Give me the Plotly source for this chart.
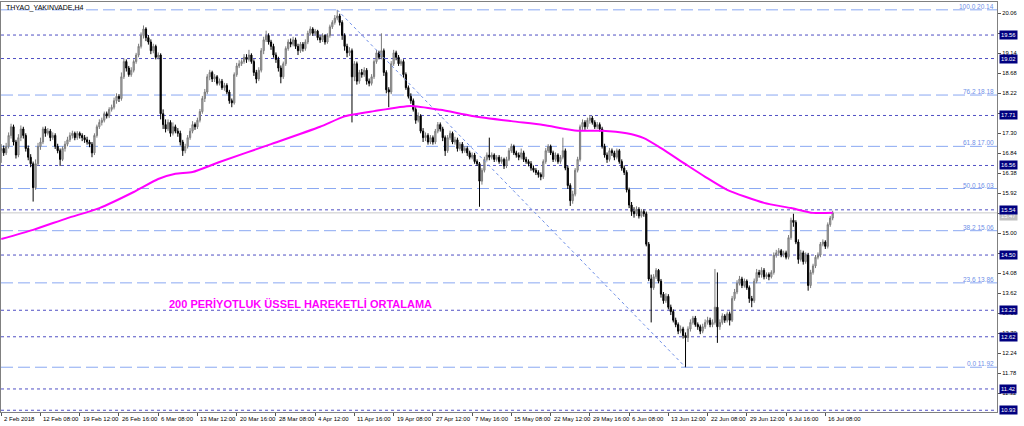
import plotly.graph_objects as go

# ---------------- data ----------------
first_open = 16.90
closes = [
    16.95, 16.85, 17.00, 17.25, 17.45, 17.10, 16.80, 17.20, 17.40, 17.25,
    16.95, 16.75, 16.60, 16.05, 16.60, 17.00, 17.10, 17.40, 17.30, 17.35,
    17.20, 17.25, 17.00, 16.90, 16.70, 16.95, 17.05, 17.15, 17.25, 17.30,
    17.20, 17.30, 17.25, 17.20, 17.15, 17.10, 17.05, 16.85, 17.25, 17.45,
    17.55, 17.60, 17.75, 17.70, 17.85, 17.90, 18.05, 18.15, 18.10, 18.60,
    18.95, 18.80, 18.65, 18.75, 18.95, 19.10, 19.30, 19.55, 19.70, 19.50,
    19.40, 19.20, 19.30, 19.05, 19.10, 17.75, 17.50, 17.40, 17.55, 17.30,
    17.45, 17.35, 17.30, 17.10, 16.90, 17.00, 17.20, 17.35, 17.50, 17.45,
    17.60, 17.80, 18.10, 18.25, 18.60, 18.70, 18.55, 18.60, 18.45, 18.50,
    18.35, 18.40, 18.25, 18.05, 18.00, 18.65, 18.85, 18.90, 18.95, 19.05,
    19.00, 19.10, 18.95, 18.70, 18.55, 18.75, 19.20, 19.45, 19.55, 19.40,
    19.30, 19.10, 19.00, 18.80, 18.60, 18.90, 19.25, 19.40, 19.35, 19.45,
    19.30, 19.20, 19.35, 19.25, 19.40, 19.60, 19.70, 19.60, 19.65, 19.50,
    19.45, 19.55, 19.40, 19.55, 19.75, 19.85, 19.95, 20.00, 19.85, 19.55,
    19.30, 19.15, 19.20, 18.60, 18.90, 18.50, 18.70, 18.65, 18.75, 18.50,
    18.45, 18.60, 18.95, 19.15, 19.05, 19.20, 18.70, 18.30, 18.25, 18.90,
    19.15, 19.05, 18.90, 18.95, 18.65, 18.35, 18.15, 18.05, 17.85, 17.60,
    17.70, 17.35, 17.20, 17.25, 17.10, 17.20, 17.10, 17.35, 17.50, 17.40,
    17.20, 16.90, 17.20, 17.30, 17.10, 17.15, 16.95, 17.05, 16.90, 16.95,
    16.85, 16.75, 16.80, 16.65, 16.60, 16.20, 16.45, 16.70, 16.80, 16.75,
    16.80, 16.70, 16.75, 16.65, 16.70, 16.55, 16.70, 16.90, 17.00, 16.85,
    16.80, 16.75, 16.85, 16.70, 16.65, 16.60, 16.50, 16.45, 16.40, 16.35,
    16.30, 16.65, 16.90, 17.00, 16.85, 16.70, 16.80, 16.65, 16.75, 16.90,
    16.50, 16.10, 15.75, 15.90, 16.45, 16.70, 17.45, 17.55, 17.45, 17.60,
    17.65, 17.55, 17.45, 17.50, 17.40, 17.00, 16.80, 16.70, 16.90, 16.85,
    16.75, 16.90, 16.65, 16.50, 16.40, 16.00, 15.65, 15.50, 15.45, 15.55,
    15.40, 15.50, 15.45, 14.75, 13.95, 13.75, 14.00, 14.15, 13.90, 13.60,
    13.45, 13.55, 13.30, 13.20, 13.00, 12.90, 12.75, 12.80, 12.65, 12.60,
    12.80, 12.95, 13.05, 12.90, 12.85, 12.75, 12.85, 12.95, 13.00, 12.90,
    12.95, 13.30, 12.85, 12.95, 13.10, 13.00, 13.15, 13.00, 13.50, 13.65,
    13.85, 13.95, 13.80, 13.90, 13.75, 13.50, 13.45, 13.90, 14.10, 14.05,
    14.15, 14.00, 14.05, 14.00, 14.10, 14.50, 14.55, 14.60, 14.50, 14.55,
    14.45, 14.90, 15.30, 15.25, 14.80, 14.40, 14.55, 14.35, 14.50, 13.80,
    14.10, 14.25, 14.45, 14.50, 14.75, 14.80, 14.70, 15.20, 15.35, 15.47,
]
highs = [
    17.05, 17.02, 17.08, 17.32, 17.52, 17.50, 17.15, 17.28, 17.48, 17.45,
    17.30, 17.02, 16.82, 16.65, 16.70, 17.08, 17.20, 17.45, 17.46, 17.42,
    17.40, 17.32, 17.30, 17.06, 16.95, 17.00, 17.12, 17.22, 17.32, 17.36,
    17.34, 17.35, 17.34, 17.30, 17.26, 17.22, 17.15, 17.10, 17.30, 17.50,
    17.62, 17.66, 17.80, 17.80, 17.90, 17.96, 18.12, 18.22, 18.20, 18.70,
    19.02, 19.00, 18.85, 18.82, 19.00, 19.15, 19.36, 19.62, 19.78, 19.74,
    19.56, 19.46, 19.36, 19.34, 19.16, 19.14, 17.85, 17.62, 17.62, 17.60,
    17.55, 17.50, 17.42, 17.36, 17.15, 17.06, 17.26, 17.42, 17.58, 17.55,
    17.66, 17.86, 18.16, 18.32, 18.66, 18.76, 18.74, 18.66, 18.64, 18.56,
    18.55, 18.46, 18.45, 18.30, 18.10, 18.70, 18.92, 18.98, 19.00, 19.12,
    19.12, 19.22, 19.14, 19.00, 18.76, 18.82, 19.26, 19.52, 19.66, 19.60,
    19.45, 19.36, 19.16, 19.06, 18.86, 18.95, 19.30, 19.46, 19.48, 19.52,
    19.50, 19.36, 19.40, 19.40, 19.46, 19.66, 19.76, 19.74, 19.70, 19.68,
    19.55, 19.60, 19.58, 19.60, 19.80, 19.90, 20.02, 20.14, 20.05, 19.90,
    19.60, 19.36, 19.28, 19.25, 18.96, 18.95, 18.76, 18.78, 18.82, 18.80,
    18.56, 18.66, 19.00, 19.22, 19.20, 19.60, 19.25, 18.75, 18.36, 18.96,
    19.22, 19.20, 19.10, 19.00, 19.00, 18.70, 18.40, 18.22, 18.10, 17.90,
    17.78, 17.74, 17.42, 17.32, 17.30, 17.26, 17.25, 17.40, 17.56, 17.55,
    17.45, 17.25, 17.26, 17.36, 17.34, 17.22, 17.20, 17.10, 17.10, 17.00,
    17.00, 16.90, 16.86, 16.85, 16.70, 16.64, 16.50, 16.76, 16.86, 17.20,
    16.86, 16.84, 16.80, 16.80, 16.76, 16.74, 16.76, 16.96, 17.06, 17.04,
    16.90, 16.86, 16.95, 16.90, 16.76, 16.70, 16.66, 16.56, 16.50, 16.45,
    16.40, 16.70, 16.96, 17.05, 17.04, 16.90, 16.86, 16.84, 16.80, 17.20,
    16.95, 16.56, 16.15, 15.98, 16.50, 16.76, 17.50, 17.62, 17.60, 17.66,
    17.72, 17.70, 17.60, 17.56, 17.55, 17.45, 17.06, 16.86, 16.96, 16.95,
    16.90, 16.95, 16.94, 16.70, 16.56, 16.45, 16.05, 15.72, 15.60, 15.62,
    15.60, 15.56, 15.55, 15.50, 14.80, 14.05, 14.06, 14.20, 14.18, 13.95,
    13.65, 13.62, 13.60, 13.36, 13.25, 13.06, 12.95, 12.88, 12.85, 12.72,
    12.86, 13.02, 13.10, 13.10, 12.95, 12.90, 12.92, 13.02, 13.08, 13.06,
    13.02, 14.18, 14.10, 13.02, 13.16, 13.14, 13.20, 13.20, 13.56, 13.72,
    13.92, 14.02, 14.00, 13.96, 13.94, 13.80, 13.56, 13.96, 14.18, 14.16,
    14.22, 14.20, 14.10, 14.10, 14.15, 14.56, 14.62, 14.66, 14.64, 14.60,
    14.60, 14.96, 15.36, 15.45, 15.30, 14.86, 14.62, 14.60, 14.56, 14.55,
    14.16, 14.30, 14.50, 14.56, 14.80, 14.86, 14.84, 15.25, 15.40, 15.52,
]
lows = [
    16.62, 16.78, 16.80, 16.95, 17.18, 17.02, 16.72, 16.75, 17.12, 17.18,
    16.88, 16.68, 16.52, 15.73, 16.00, 16.55, 16.92, 17.05, 17.22, 17.25,
    17.12, 17.15, 16.94, 16.84, 16.55, 16.66, 16.88, 17.00, 17.10, 17.18,
    17.14, 17.15, 17.18, 17.12, 17.08, 17.04, 16.98, 16.75, 16.80, 17.20,
    17.40, 17.48, 17.55, 17.64, 17.65, 17.80, 17.85, 17.98, 18.02, 18.05,
    18.55, 18.72, 18.60, 18.60, 18.70, 18.90, 19.05, 19.25, 19.48, 19.42,
    19.34, 19.12, 19.14, 19.00, 19.00, 17.62, 17.40, 17.32, 17.35, 17.22,
    17.25, 17.30, 17.22, 17.02, 16.78, 16.84, 16.95, 17.15, 17.30, 17.38,
    17.40, 17.55, 17.75, 18.02, 18.20, 18.52, 18.48, 18.48, 18.40, 18.40,
    18.30, 18.28, 18.20, 17.98, 17.90, 17.96, 18.60, 18.80, 18.85, 18.90,
    18.92, 18.95, 18.90, 18.62, 18.45, 18.50, 18.70, 19.12, 19.40, 19.34,
    19.22, 19.04, 18.92, 18.72, 18.45, 18.55, 18.85, 19.20, 19.28, 19.30,
    19.24, 19.10, 19.15, 19.18, 19.20, 19.35, 19.55, 19.54, 19.55, 19.44,
    19.38, 19.40, 19.34, 19.36, 19.50, 19.70, 19.80, 19.90, 19.78, 19.45,
    19.20, 19.05, 19.08, 17.55, 18.50, 18.42, 18.44, 18.58, 18.60, 18.42,
    18.38, 18.40, 18.55, 18.90, 19.00, 19.00, 18.62, 18.22, 17.90, 18.20,
    18.85, 18.98, 18.85, 18.85, 18.58, 18.30, 18.10, 17.98, 17.80, 17.52,
    17.55, 17.30, 17.10, 17.12, 17.04, 17.05, 17.04, 17.05, 17.30, 17.34,
    17.12, 16.78, 16.85, 17.15, 17.05, 17.04, 16.88, 16.90, 16.84, 16.85,
    16.78, 16.70, 16.70, 16.60, 16.55, 15.61, 16.12, 16.40, 16.65, 16.68,
    16.70, 16.64, 16.65, 16.60, 16.60, 16.48, 16.50, 16.66, 16.85, 16.80,
    16.74, 16.68, 16.70, 16.64, 16.60, 16.54, 16.44, 16.40, 16.34, 16.28,
    16.22, 16.25, 16.60, 16.85, 16.80, 16.64, 16.65, 16.60, 16.60, 16.70,
    16.45, 16.02, 15.63, 15.68, 15.85, 16.40, 16.65, 17.38, 17.38, 17.40,
    17.52, 17.50, 17.40, 17.40, 17.34, 16.95, 16.74, 16.62, 16.65, 16.78,
    16.68, 16.70, 16.60, 16.44, 16.34, 15.94, 15.58, 15.40, 15.36, 15.40,
    15.34, 15.36, 15.38, 14.70, 13.90, 12.95, 13.70, 13.95, 13.85, 13.52,
    13.38, 13.40, 13.25, 13.12, 12.95, 12.84, 12.68, 12.70, 12.58, 11.92,
    12.50, 12.74, 12.90, 12.85, 12.78, 12.68, 12.70, 12.80, 12.90, 12.84,
    12.84, 12.90, 12.48, 12.78, 12.90, 12.94, 12.95, 12.88, 12.96, 13.45,
    13.60, 13.80, 13.74, 13.75, 13.70, 13.40, 13.30, 13.40, 13.85, 13.98,
    13.98, 13.94, 13.95, 13.92, 13.96, 14.05, 14.44, 14.48, 14.45, 14.45,
    14.40, 14.40, 14.85, 15.15, 14.75, 14.30, 14.35, 14.28, 14.30, 13.68,
    13.74, 14.05, 14.20, 14.40, 14.45, 14.70, 14.64, 14.65, 15.15, 15.30,
]

# 200-period exponential moving average, read at sample bars
ma_bars = [0, 13, 27, 40, 54, 64, 71, 78, 89, 110, 130, 140, 152, 167, 179,
           192, 208, 221, 235, 245, 255, 262, 269, 279, 287, 296, 311, 322, 331, 339]
ma_values = [14.87, 15.08, 15.35, 15.58, 15.95, 16.25, 16.37, 16.41, 16.64, 17.05,
             17.45, 17.69, 17.81, 17.93, 17.84, 17.70, 17.58, 17.49, 17.36, 17.36,
             17.30, 17.19, 16.96, 16.59, 16.30, 16.00, 15.70, 15.58, 15.47, 15.47]

# Fibonacci retracement
fib_anchor_bars = [137, 279]
fib_anchor_prices = [20.14, 11.92]
fib_levels = ["100.0", "76.2", "61.8", "50.0", "38.2", "23.6", "0.0"]
fib_prices = [20.14, 18.18, 17.00, 16.03, 15.06, 13.86, 11.92]

# horizontal price lines with labels
hline_prices = [19.56, 19.02, 17.71, 16.56, 15.54, 14.50, 13.23, 12.62, 11.42, 10.93]
hline_labels = ["19.56", "19.02", "17.71", "16.56", "15.54", "14.50", "13.23", "12.62", "11.42", "10.93"]

price_ticks = [20.06, 19.60, 19.14, 18.68, 18.22, 17.76, 17.30, 16.84, 16.38, 15.92,
               15.46, 15.00, 14.54, 14.08, 13.62, 13.16, 12.70, 12.24, 11.78, 11.32]

time_tick_bars = [0, 16, 32, 48, 64, 80, 96, 112, 128, 144, 160, 176, 192, 208,
                  224, 240, 256, 272, 288, 304, 320, 336]
time_tick_labels = ["2 Feb 2018", "12 Feb 08:00", "19 Feb 12:00", "26 Feb 16:00",
                    "6 Mar 08:00", "13 Mar 12:00", "20 Mar 16:00", "28 Mar 08:00",
                    "4 Apr 12:00", "11 Apr 16:00", "19 Apr 08:00", "27 Apr 12:00",
                    "7 May 16:00", "15 May 08:00", "22 May 12:00", "29 May 16:00",
                    "6 Jun 08:00", "13 Jun 12:00", "22 Jun 08:00", "29 Jun 12:00",
                    "6 Jul 16:00", "16 Jul 08:00"]

chart_title = "THYAO_YAKINVADE,H4"
note_text = "200 PERİYOTLUK ÜSSEL HAREKETLİ ORTALAMA"

# ---------------- build figure ----------------
bars = list(range(len(closes)))
opens = [first_open] + closes[:-1]
highs_c = [max(h, o, c) for h, o, c in zip(highs, opens, closes)]
lows_c = [min(l, o, c) for l, o, c in zip(lows, opens, closes)]
last_price = closes[-1]

FONT = "Liberation Sans"
SMALL = 5.8
fig = go.Figure()

shapes = []
for p in fib_prices:
    shapes.append(dict(type="line", xref="paper", x0=0, x1=1, yref="y", y0=p, y1=p,
                       line=dict(color="#8aa8f2", width=1, dash="12px,5px"), layer="below"))
for p in hline_prices:
    shapes.append(dict(type="line", xref="paper", x0=0, x1=1, yref="y", y0=p, y1=p,
                       line=dict(color="#5050c4", width=1, dash="dot"), layer="below"))
shapes.append(dict(type="line", xref="paper", x0=0, x1=1, yref="y", y0=last_price, y1=last_price,
                   line=dict(color="#c8c8c8", width=1), layer="below"))

fig.add_trace(go.Scatter(x=fib_anchor_bars, y=fib_anchor_prices, mode="lines",
                         line=dict(color="#6f8fe8", width=1, dash="dot"),
                         hoverinfo="skip", showlegend=False))

fig.add_trace(go.Candlestick(
    x=bars, open=opens, high=highs_c, low=lows_c, close=closes,
    increasing=dict(line=dict(color="#7c7c7c", width=1), fillcolor="#b8b8b8"),
    decreasing=dict(line=dict(color="#000000", width=1), fillcolor="#000000"),
    whiskerwidth=0, showlegend=False, hoverinfo="skip"))

fig.add_trace(go.Scatter(x=ma_bars, y=ma_values, mode="lines",
                         line=dict(color="#ff00ff", width=2, shape="spline", smoothing=0.6),
                         hoverinfo="skip", showlegend=False))

ann = []
ann.append(dict(text=chart_title, xref="paper", yref="paper", x=0, y=1, xanchor="left",
                yanchor="top", xshift=3, yshift=0, showarrow=False,
                font=dict(family=FONT, size=7, color="#000000")))
ann.append(dict(text="<b>" + note_text + "</b>", xref="paper", yref="y", x=0.167, y=13.23,
                xanchor="left", yanchor="bottom", showarrow=False, yshift=-2,
                font=dict(family=FONT, size=11, color="#ff00ff")))
for lv, p in zip(fib_levels, fib_prices):
    ann.append(dict(text=f"{lv} {p:.2f}", xref="paper", yref="y", x=1, y=p,
                    xanchor="right", yanchor="bottom", xshift=-1, yshift=-2, showarrow=False,
                    font=dict(family=FONT, size=6.5, color="#6f8fe8")))
# current price label (partly hidden)
ann.append(dict(text=f"{last_price:.2f}", xref="paper", yref="y", x=1, y=last_price,
                xanchor="left", yanchor="middle", xshift=2, yshift=-3, showarrow=False,
                bgcolor="#c0c0c0", borderpad=1,
                font=dict(family=FONT, size=SMALL, color="#ffffff")))
for lab, p in zip(hline_labels, hline_prices):
    ann.append(dict(text=lab, xref="paper", yref="y", x=1, y=p,
                    xanchor="left", yanchor="middle", xshift=2, showarrow=False,
                    bgcolor="#000080", borderpad=1,
                    font=dict(family=FONT, size=SMALL, color="#ffffff")))
for b, lab in zip(time_tick_bars, time_tick_labels):
    ann.append(dict(text=lab, xref="x", yref="paper", x=b, y=0, xanchor="left",
                    yanchor="top", xshift=1, yshift=-2, showarrow=False,
                    font=dict(family=FONT, size=6, color="#000000")))

fig.update_layout(
    width=1024, height=426,
    margin=dict(l=1, r=27, t=2, b=14, autoexpand=False),
    paper_bgcolor="#ffffff", plot_bgcolor="#ffffff",
    shapes=shapes, annotations=ann,
    showlegend=False,
    xaxis=dict(range=[-0.1, 406.0], showgrid=False, zeroline=False,
               tickvals=time_tick_bars, showticklabels=False,
               ticks="outside", ticklen=3, tickcolor="#555555",
               showline=True, mirror=True, linecolor="#808080", linewidth=1,
               rangeslider=dict(visible=False)),
    yaxis=dict(range=[10.89, 20.32], side="right", showgrid=False, zeroline=False,
               tickvals=price_ticks, ticktext=[f"{v:.2f}" for v in price_ticks],
               ticks="outside", ticklen=3, tickcolor="#555555",
               tickfont=dict(family=FONT, size=SMALL, color="#000000"),
               showline=True, mirror=True, linecolor="#808080", linewidth=1),
)

fig.write_html("out.html", config={"displayModeBar": False},
               post_script="document.body.style.margin='0';document.body.style.padding='0';")
